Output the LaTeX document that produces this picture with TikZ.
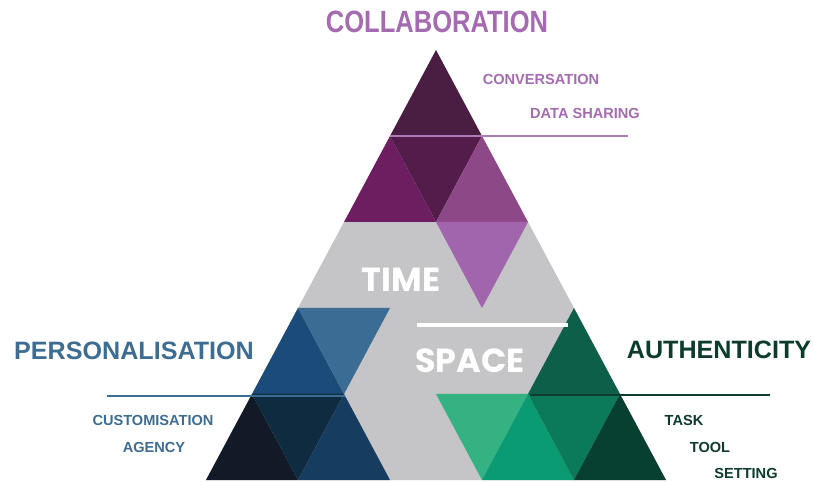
\documentclass[tikz,border=0pt]{standalone}
\usepackage{xcolor}
\usepackage{graphicx}
\usepackage{fontspec}
\setmainfont{Liberation Sans}
\newfontfamily\geofont{Poppins}
\usepackage{tikz}

\definecolor{collabC}{HTML}{A46BB0}
\definecolor{plumA}{HTML}{4A1E42}
\definecolor{plumB}{HTML}{531C4A}
\definecolor{plumC}{HTML}{6D1E60}
\definecolor{plumD}{HTML}{8D4888}
\definecolor{lilac}{HTML}{A065AD}
\definecolor{greyT}{HTML}{C5C4C6}
\definecolor{persC}{HTML}{3D6D92}
\definecolor{blueA}{HTML}{1B4B78}
\definecolor{blueB}{HTML}{3B6C93}
\definecolor{navyA}{HTML}{111A26}
\definecolor{navyB}{HTML}{0F2B3F}
\definecolor{navyC}{HTML}{163D60}
\definecolor{authC}{HTML}{0D3B2C}
\definecolor{greenA}{HTML}{0E5F49}
\definecolor{greenB}{HTML}{35B282}
\definecolor{greenC}{HTML}{0A9B72}
\definecolor{greenD}{HTML}{0B7A5A}
\definecolor{greenE}{HTML}{073F31}

\begin{document}
\begin{tikzpicture}[x=0.02cm,y=-0.02cm,
  head/.style={font=\fontsize{14.3}{16}\selectfont\bfseries,inner sep=0},
  tag/.style={font=\fontsize{8.3}{10}\selectfont\bfseries,inner sep=0},
  big/.style={font=\geofont\fontsize{19}{22}\selectfont\bfseries,text=white,inner sep=0}]
\fill[white] (0,0) rectangle (814,482);
\useasboundingbox (0,0) rectangle (814,482);

% grey body
\fill[greyT] (344,222) -- (528,222) -- (666,480) -- (206,480) -- cycle;

% collaboration (top)
\fill[plumA] (436,50) -- (390,136) -- (482,136) -- cycle;
\fill[plumC] (390,136) -- (344,222) -- (436,222) -- cycle;
\fill[plumB] (390,136) -- (482,136) -- (436,222) -- cycle;
\fill[plumD] (482,136) -- (436,222) -- (528,222) -- cycle;
\fill[lilac] (436,222) -- (528,222) -- (482,308) -- cycle;

% personalisation (left)
\fill[blueA] (298,308) -- (252,394) -- (344,394) -- cycle;
\fill[blueB] (298,308) -- (390,308) -- (344,394) -- cycle;
\fill[navyA] (252,394) -- (206,480) -- (298,480) -- cycle;
\fill[navyB] (252,394) -- (344,394) -- (298,480) -- cycle;
\fill[navyC] (344,394) -- (298,480) -- (390,480) -- cycle;

% authenticity (right)
\fill[greenA] (574,308) -- (528,394) -- (620,394) -- cycle;
\fill[greenB] (436,394) -- (528,394) -- (482,480) -- cycle;
\fill[greenC] (528,394) -- (482,480) -- (574,480) -- cycle;
\fill[greenD] (528,394) -- (620,394) -- (574,480) -- cycle;
\fill[greenE] (620,394) -- (574,480) -- (666,480) -- cycle;

% rules
\draw[collabC!90,line width=1.7pt] (390,136) -- (628,136);
\draw[white,line width=2.3pt] (417,325) -- (568,325);
\draw[persC,line width=1.7pt] (107,396) -- (345,396);
\draw[authC,line width=1.7pt] (530,395) -- (770,395);

% labels
\node[head,text=collabC,font=\fontsize{17.5}{20}\selectfont\bfseries] (collab) at (437,22) {\scalebox{0.83}[1]{COLLABORATION}};
\node[tag,text=collabC] (conv) at (541,79) {CONVERSATION};
\node[tag,text=collabC] (datashare) at (585,113) {DATA SHARING};

\node[big] (time) at (401,280) {TIME};
\node[big] (space) at (470,361) {SPACE};

\node[head,text=persC] (person) at (134,351) {PERSONALISATION};
\node[tag,text=persC] (custom) at (153,420) {CUSTOMISATION};
\node[tag,text=persC] (agency) at (154,447) {AGENCY};

\node[head,text=authC] (auth) at (719,350) {AUTHENTICITY};
\node[tag,text=authC] (task) at (684,420) {TASK};
\node[tag,text=authC] (tool) at (710,447) {TOOL};
\node[tag,text=authC] (setting) at (746,473) {SETTING};
\end{tikzpicture}
\end{document}
